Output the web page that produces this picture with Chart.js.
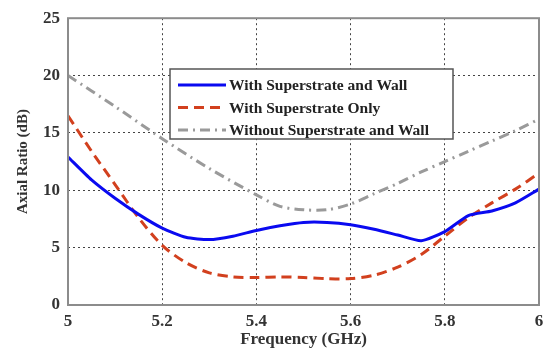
<!DOCTYPE html>
<html>
<head>
<meta charset="utf-8">
<script src="https://cdn.jsdelivr.net/npm/chart.js@4"></script>
<style>
  html, body { margin: 0; padding: 0; background: #fff; }
  #wrap { width: 551px; height: 352px; }
</style>
</head>
<body>
<div id="wrap"><canvas id="arChart" width="551" height="352"></canvas></div>
<script>
// frequency samples (GHz)
const freqs = [5, 5.05, 5.1, 5.15, 5.2, 5.25, 5.3, 5.35, 5.4, 5.45, 5.5, 5.55, 5.6, 5.65, 5.7, 5.75, 5.8, 5.85, 5.9, 5.95, 6];
const noSuperFreqs = [5, 5.1, 5.2, 5.3, 5.4, 5.45, 5.5, 5.55, 5.6, 5.65, 5.7, 5.75, 5.8, 5.85, 5.9, 5.95, 6];

// axial ratio (dB) for each configuration
const withWall = [12.9, 10.9, 9.3, 7.9, 6.7, 5.9, 5.7, 6.0, 6.5, 6.9, 7.2, 7.2, 7.0, 6.6, 6.1, 5.6, 6.4, 7.8, 8.2, 8.9, 10.1];
const superOnly = [16.5, 13.4, 10.5, 7.6, 5.2, 3.7, 2.8, 2.45, 2.4, 2.45, 2.4, 2.3, 2.3, 2.6, 3.3, 4.4, 6.0, 7.6, 8.9, 10.1, 11.5];
const noSuper = [20, 17.3, 14.5, 11.9, 9.6, 8.6, 8.3, 8.3, 8.8, 9.7, 10.6, 11.6, 12.5, 13.4, 14.3, 15.2, 16.2];

const xTicks = [5, 5.2, 5.4, 5.6, 5.8, 6];
const yTicks = [0, 5, 10, 15, 20, 25];

const serif = "'Liberation Serif', 'Times New Roman', serif";

const toPoints = (xs, ys) => xs.map((x, i) => ({ x: x, y: ys[i] }));

// box around the plot + legend drawn inside it
const framePlugin = {
  id: "frame",
  afterDatasetsDraw(chart) {
    const { ctx, chartArea: a } = chart;
    ctx.save();
    ctx.strokeStyle = "#8c8c8c";
    ctx.lineWidth = 2;
    ctx.strokeRect(a.left, a.top, a.right - a.left, a.bottom - a.top);

    // legend
    const lx = 170, ly = 69, lw = 283, lh = 70;
    ctx.fillStyle = "#fff";
    ctx.fillRect(lx, ly, lw, lh);
    ctx.strokeStyle = "#555";
    ctx.lineWidth = 1.5;
    ctx.strokeRect(lx, ly, lw, lh);
    ctx.font = "bold 15.5px " + serif;
    ctx.textBaseline = "middle";
    chart.data.datasets.forEach((ds, i) => {
      const y = ly + 16 + i * 22.5;
      ctx.beginPath();
      ctx.strokeStyle = ds.borderColor;
      ctx.lineWidth = ds.borderWidth;
      ctx.setLineDash(ds.borderDash || []);
      ctx.moveTo(lx + 8, y);
      ctx.lineTo(lx + 56, y);
      ctx.stroke();
      ctx.setLineDash([]);
      ctx.fillStyle = "#222";
      ctx.fillText(ds.label, lx + 59, y + 1);
    });
    ctx.restore();
  }
};

new Chart(document.getElementById("arChart"), {
  type: "line",
  data: {
    datasets: [
      {
        label: "With Superstrate and Wall",
        data: toPoints(freqs, withWall),
        borderColor: "#0a0af0",
        borderWidth: 3,
        tension: 0.2
      },
      {
        label: "With Superstrate Only",
        data: toPoints(freqs, superOnly),
        borderColor: "#d2401e",
        borderWidth: 3,
        borderDash: [10, 6],
        tension: 0.3
      },
      {
        label: "Without Superstrate and Wall",
        data: toPoints(noSuperFreqs, noSuper),
        borderColor: "#9a9a9a",
        borderWidth: 3,
        borderDash: [10, 5, 2, 5],
        tension: 0.3
      }
    ]
  },
  options: {
    responsive: false,
    animation: false,
    elements: { point: { radius: 0 } },
    layout: { padding: { top: 16, right: 12, left: 14, bottom: 0 } },
    plugins: { legend: { display: false }, tooltip: { enabled: false } },
    scales: {
      x: {
        type: "linear",
        min: 5,
        max: 6,
        afterBuildTicks: s => { s.ticks = xTicks.map(v => ({ value: v })); },
        afterFit: s => { s.height = 47; },
        grid: { color: "#444", lineWidth: 1, drawTicks: false },
        border: { display: false, dash: [2, 3] },
        ticks: {
          color: "#333",
          padding: 6,
          maxRotation: 0,
          font: { family: serif, size: 17, weight: "bold" },
          callback: v => String(v)
        },
        title: {
          display: true,
          text: "Frequency (GHz)",
          color: "#333",
          padding: { top: 0, bottom: 2 },
          font: { family: serif, size: 17, weight: "bold" }
        }
      },
      y: {
        min: 0,
        max: 25,
        afterBuildTicks: s => { s.ticks = yTicks.map(v => ({ value: v })); },
        afterFit: s => { s.width = 54; },
        grid: { color: "#444", lineWidth: 1, drawTicks: false },
        border: { display: false, dash: [2, 3] },
        ticks: {
          color: "#333",
          padding: 8,
          font: { family: serif, size: 17, weight: "bold" }
        },
        title: {
          display: true,
          text: "Axial Ratio (dB)",
          color: "#333",
          padding: { top: 0, bottom: 0 },
          font: { family: serif, size: 15, weight: "bold" }
        }
      }
    }
  },
  plugins: [framePlugin]
});
</script>
</body>
</html>
